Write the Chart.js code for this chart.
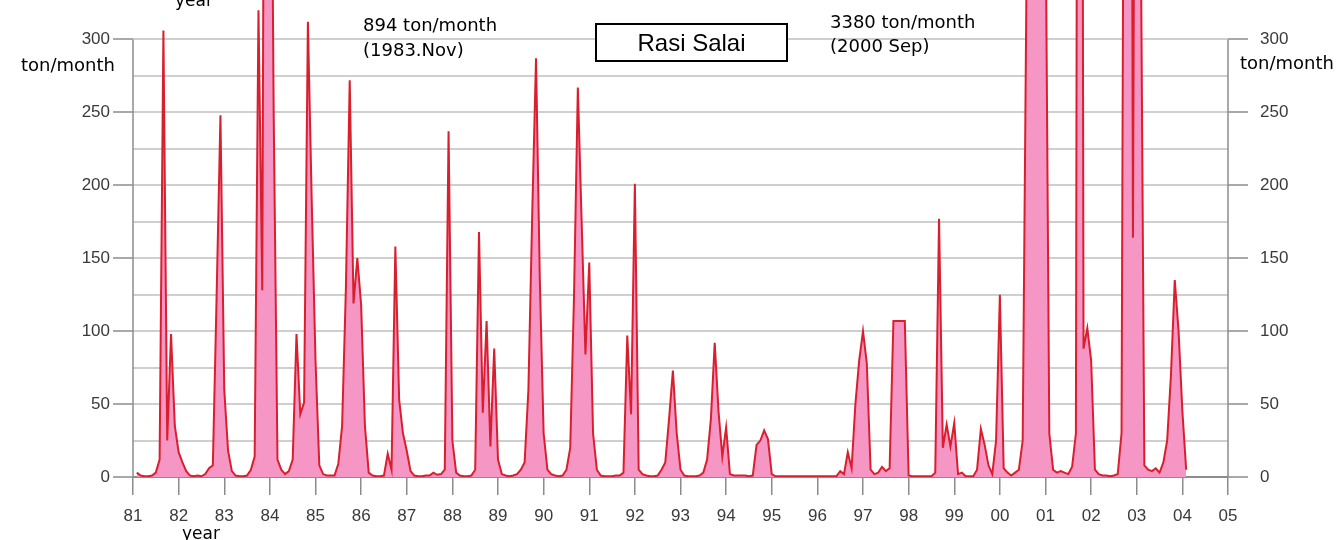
<!DOCTYPE html>
<html><head><meta charset="utf-8">
<script src="https://cdn.jsdelivr.net/npm/chart.js@4.4.1/dist/chart.umd.min.js"></script>
<style>
html,body{margin:0;padding:0;background:#fff;overflow:hidden;}
#wrap{position:relative;width:1341px;height:540px;overflow:hidden;}
canvas{position:absolute;left:0;top:0;}
.t{position:absolute;font-family:"DejaVu Sans",sans-serif;font-size:18px;color:#000;white-space:nowrap;line-height:18px;}
.y{font-size:17px;line-height:17px;}
#title{position:absolute;left:595px;top:23px;width:189px;height:35px;border:2px solid #000;background:#fff;font-family:"Liberation Sans",Arial,sans-serif;font-size:24px;line-height:35px;text-align:center;color:#000;}
</style></head>
<body>
<div id="wrap">
<canvas id="c" width="1341" height="540"></canvas>
<div class="t y" style="left:175px;top:-8px;">year</div>
<div class="t y" style="left:182px;top:525px;">year</div>
<div class="t" style="left:21px;top:56px;">ton/month</div>
<div class="t" style="left:1240px;top:54px;">ton/month</div>
<div class="t" style="left:363px;top:16px;">894 ton/month</div>
<div class="t" style="left:363px;top:41px;">(1983.Nov)</div>
<div class="t" style="left:830px;top:13px;">3380 ton/month</div>
<div class="t" style="left:830px;top:37px;">(2000 Sep)</div>
<div id="title">Rasi Salai</div>
</div>
<script>
// Monthly sediment load (ton/month), Jan..Dec for each year
const years = [1981,1982,1983,1984,1985,1986,1987,1988,1989,1990,1991,1992,1993,1994,1995,1996,1997,1998,1999,2000,2001,2002,2003,2004];
const v1981 = [3, 1, 0.5, 0.5, 1, 3, 12, 306, 25, 98, 35, 17];
const v1982 = [10, 4, 1, 0.5, 1, 0.5, 2, 6, 8, 125, 248, 60];
const v1983 = [18, 4, 1, 0.5, 0.5, 1, 5, 14, 320, 128, 894, 600];
const v1984 = [250, 12, 5, 2, 4, 12, 98, 43, 51, 312, 190, 80];
const v1985 = [8, 2, 1, 1, 1, 9, 35, 130, 272, 119, 150, 118];
const v1986 = [35, 3, 1, 0.5, 0.5, 1, 16, 5, 158, 53, 30, 18];
const v1987 = [4, 1, 0.5, 0.5, 1, 1, 3, 1.5, 2, 5, 237, 25];
const v1988 = [3, 1, 0.5, 0.5, 1, 5, 168, 44, 107, 21, 88, 12];
const v1989 = [2, 1, 0.5, 1, 2, 5, 10, 60, 180, 287, 135, 30];
const v1990 = [5, 2, 1, 0.5, 1, 5, 20, 125, 267, 175, 84, 147];
const v1991 = [30, 5, 1, 0.5, 0.5, 0.5, 1, 1, 3, 97, 43, 201];
const v1992 = [5, 2, 1, 0.5, 0.5, 1, 5, 10, 40, 73, 30, 5];
const v1993 = [1, 0.5, 0.5, 0.5, 1, 3, 12, 40, 92, 45, 14, 34];
const v1994 = [2, 1, 1, 1, 1, 0.5, 1, 22, 25, 32, 26, 2];
const v1995 = [0.5, 0.5, 0.5, 0.5, 0.5, 0.5, 0.5, 0.5, 0.5, 0.5, 0.5, 0.5];
const v1996 = [0.5, 0.5, 0.5, 0.5, 0.5, 4, 2, 17, 6, 50, 80, 100];
const v1997 = [78, 5, 2, 3, 7, 4, 6, 107, 107, 107, 107, 1];
const v1998 = [0.5, 0.5, 0.5, 0.5, 0.5, 0.5, 3, 177, 20, 36, 21, 37];
const v1999 = [2, 3, 0.5, 0.5, 0.5, 5, 33, 22, 8, 2, 25, 125];
const v2000 = [6, 3, 1, 3, 5, 25, 340, 1500, 3380, 1800, 800, 400];
const v2001 = [30, 5, 3, 4, 3, 2, 7, 30, 1500, 88, 102, 80];
const v2002 = [5, 2, 1, 1, 0.5, 1, 2, 30, 800, 1200, 164, 900];
const v2003 = [400, 8, 5, 4, 6, 3, 10, 25, 70, 135, 100, 45];
const v2004 = [5];
const series = [v1981,v1982,v1983,v1984,v1985,v1986,v1987,v1988,v1989,v1990,v1991,v1992,v1993,v1994,v1995,v1996,v1997,v1998,v1999,v2000,v2001,v2002,v2003,v2004];

const xTickYears = [1981,1982,1983,1984,1985,1986,1987,1988,1989,1990,1991,1992,1993,1994,1995,1996,1997,1998,1999,2000,2001,2002,2003,2004,2005];
const yTickValues = [0,25,50,75,100,125,150,175,200,225,250,275,300];
const yLabelValues = [0,50,100,150,200,250,300];
const yAxisTop = 300;   // axis lines drawn from 0 to 300
const yViewMax = 327;   // plot window extends above the 300 line (peaks run off the top)

const points = [];
series.forEach((arr, i) => arr.forEach((v, m) => points.push({x: years[i] + (m + 1) / 12, y: v})));

const tickFont = {family: '"Liberation Sans", Arial, sans-serif', size: 17};
const axisGray = '#8c8c8c';
const isLabel = v => yLabelValues.includes(v);

function yScale(pos){
  return {
    position: pos, min: 0, max: yViewMax,
    afterBuildTicks: s => { s.ticks = yTickValues.map(v => ({value: v})); },
    afterFit: s => { s.width = pos === 'left' ? 133 : 113; s.paddingTop = 0; s.paddingBottom = 0; },
    ticks: {autoSkip: false, font: tickFont, color: '#3a3a3a', padding: pos === 'left' ? 3 : 12,
      callback: v => isLabel(v) ? String(v) : ''},
    grid: {drawOnChartArea: pos === 'left', color: c => c.tick && c.tick.value === 0 ? axisGray : '#cfcfcf',
      lineWidth: 2, tickLength: 20, tickWidth: 1.5,
      tickColor: c => (c.tick && isLabel(c.tick.value)) ? axisGray : 'rgba(0,0,0,0)'},
    border: {display: false}
  };
}

const axisLines = {
  id: 'axisLines',
  afterDraw(chart){
    const {ctx, chartArea, scales} = chart;
    const top = scales.y.getPixelForValue(yAxisTop), bot = scales.y.getPixelForValue(0);
    ctx.save();
    ctx.strokeStyle = axisGray; ctx.lineWidth = 1.5;
    [chartArea.left, chartArea.right].forEach(px => {
      ctx.beginPath(); ctx.moveTo(px, top); ctx.lineTo(px, bot); ctx.stroke();
    });
    ctx.restore();
  }
};

new Chart(document.getElementById('c'), {
  type: 'line',
  data: {datasets: [{
    data: points, borderColor: '#d91f2e', borderWidth: 2, backgroundColor: 'rgb(246,150,196)',
    fill: 'origin', pointRadius: 0, tension: 0
  }]},
  options: {
    responsive: false, animation: false, devicePixelRatio: 1,
    layout: {padding: {top: 0, left: 0, right: 0, bottom: 0}},
    plugins: {legend: {display: false}, tooltip: {enabled: false}},
    scales: {
      x: {
        type: 'linear', min: 1981, max: 2005,
        afterBuildTicks: s => { s.ticks = xTickYears.map(v => ({value: v})); },
        afterFit: s => { s.height = 63; s.paddingLeft = 0; s.paddingRight = 0; },
        ticks: {autoSkip: false, maxRotation: 0, font: tickFont, color: '#3a3a3a', padding: 11,
          callback: v => String(v % 100).padStart(2, '0')},
        grid: {drawOnChartArea: false, tickLength: 18, color: axisGray, lineWidth: 1.5},
        border: {display: true, color: axisGray, width: 1.5}
      },
      y: yScale('left'),
      y2: yScale('right')
    }
  },
  plugins: [axisLines]
});
</script>
</body></html>
